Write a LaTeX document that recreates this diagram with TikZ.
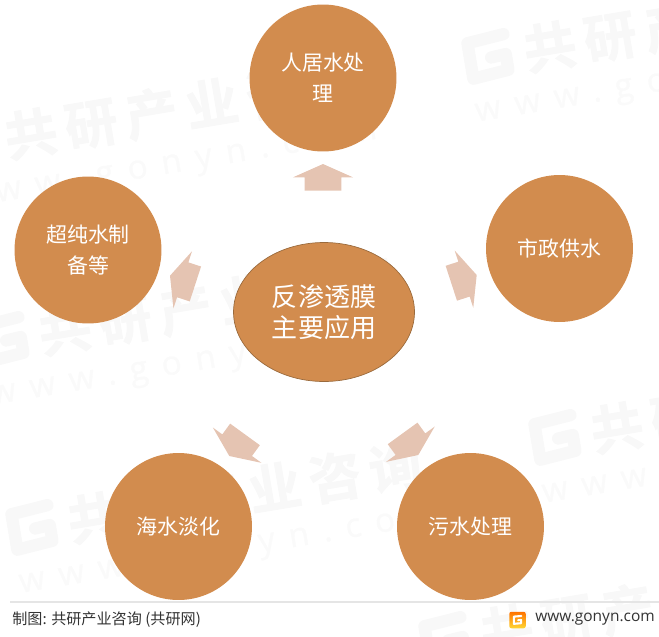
\documentclass[tikz,border=0pt]{standalone}
\usepackage{fontspec}
\usetikzlibrary{positioning,shapes.arrows,shapes.geometric}
\setmainfont{Noto Sans CJK SC}
\newfontfamily\wmfont[LetterSpace=16,FakeBold=1.5]{Noto Sans CJK SC Bold}
\newfontfamily\urlfont[LetterSpace=42,FakeBold=1]{Open Sans}
\newfontfamily\sitefont{Open Sans}
\definecolor{bubblefill}{HTML}{D28C4E}
\definecolor{bubbleline}{HTML}{9A6A3C}
\definecolor{arrowfill}{HTML}{E5C4B2}
\definecolor{markgray}{HTML}{F8F8F8}
\definecolor{urlgray}{HTML}{FAFAFA}
\definecolor{footgray}{HTML}{333333}
\tikzset{
	bubble/.style={circle, fill=bubblefill, text=white, minimum size=2.94cm, inner sep=0pt, align=center, font=\fontsize{11.9}{17.6}\selectfont},
	hub/.style={ellipse, draw=bubbleline, fill=bubblefill, text=white, minimum width=3.62cm, minimum height=2.78cm, inner sep=0pt, align=center, font=\fontsize{14.8}{17.6}\selectfont},
	flowarrow/.style={single arrow, fill=arrowfill, text height=0.72cm, text depth=0pt, text width=0.26cm, minimum height=0.534cm, single arrow head extend=0.234cm, single arrow tip angle=132, inner sep=0pt, outer sep=0pt, anchor=tip},
	gmark/.pic={\draw [pic actions, line join=round, line cap=round] (19, -20)--(-18, -17)--(-18, 19)--(18, 16)--(18, 0)--(3, 1);},
}
\begin{document}
\begin{tikzpicture}[x=0.02cm, y=-0.02cm]
	\useasboundingbox (0, 0) rectangle (659, 636);
	\clip (0, 0) rectangle (659, 636);
	% watermark tiles
	\foreach \tname/\wx/\wy in {a/488/57, b/-31/144, c/3/340, d/32/528, e/555/438, f/445/640} {
		\begin{scope}[shift={(\wx, \wy)}, rotate=9.5, transform shape]
			\pic [draw=markgray, line width=7pt] {gmark};
			\node [anchor=west, inner sep=0pt, text=markgray, font=\fontsize{30}{32}\wmfont] (wm\tname) at (36, 0) {共研产业咨询};
			\node [anchor=west, inner sep=0pt, text=urlgray, font=\fontsize{19}{20}\urlfont] (url\tname) at (-22, 57) {www.gonyn.com};
		\end{scope}
	}
	% arrows
	\node [flowarrow, rotate=90] (arrowtop) at (323, 164) {};
	\node [flowarrow, rotate=18] (arrowright) at (476.7, 275) {};
	\node [flowarrow, rotate=306] (arrowlowright) at (418.3, 455) {};
	\node [flowarrow, rotate=234] (arrowlowleft) at (229.3, 456) {};
	\node [flowarrow, rotate=162] (arrowleft) at (170, 275.7) {};
	% hub and bubbles
	\node [hub] (membrane) at (324, 312) {反渗透膜\\主要应用};
	\node [bubble] (residential) at (323, 78) {人居水处\\理};
	\node [bubble] (municipal) at (559.5, 248.5) {市政供水};
	\node [bubble] (sewage) at (470.5, 526.5) {污水处理};
	\node [bubble] (seawater) at (178.5, 526.5) {海水淡化};
	\node [bubble] (purewater) at (88, 250) {超纯水制\\备等};
	% footer
	\draw [draw=black!10, line width=0.6pt] (10, 602)--(659, 602);
	\node [anchor=west, inner sep=0pt, text=footgray, font=\fontsize{8.6}{10}\selectfont] (credit) at (12, 620) {制图: 共研产业咨询 (共研网)};
	\node [anchor=west, inner sep=0pt, text=footgray, font=\fontsize{8.8}{11}\sitefont] (site) at (535, 619.5) {www.gonyn.com};
	\node [rounded corners=1.2pt, minimum size=0.33cm, inner sep=0pt, top color=orange!90!red, bottom color=orange!40!yellow!80] (logo) at (517.5, 620) {};
	\pic [draw=white, line width=1.2pt, scale=0.2] at (logo) {gmark};
\end{tikzpicture}
\end{document}
